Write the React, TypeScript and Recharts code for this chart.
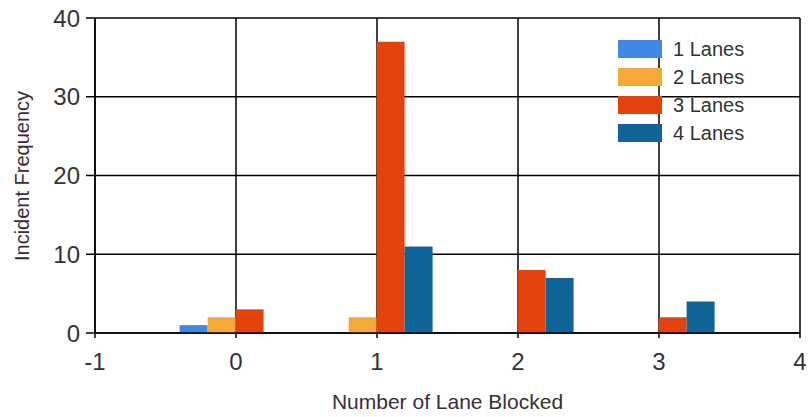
import {
  Bar,
  BarChart,
  CartesianGrid,
  Legend,
  XAxis,
  YAxis,
} from "recharts"

const lanesBlocked = [0, 1, 2, 3]
const oneLane = [1, 0, 0, 0]
const twoLanes = [2, 2, 0, 0]
const threeLanes = [3, 37, 8, 2]
const fourLanes = [0, 11, 7, 4]

const xTicks = [-1, 0, 1, 2, 3, 4]
const yTicks = [0, 10, 20, 30, 40]

const series = [
  { key: "lanes1", name: "1 Lanes", color: "#3f88e6" },
  { key: "lanes2", name: "2 Lanes", color: "#f6a93b" },
  { key: "lanes3", name: "3 Lanes", color: "#e2430c" },
  { key: "lanes4", name: "4 Lanes", color: "#0f6598" },
]

const data = lanesBlocked.map((x, i) => ({
  x,
  lanes1: oneLane[i],
  lanes2: twoLanes[i],
  lanes3: threeLanes[i],
  lanes4: fourLanes[i],
}))

const font = "'Liberation Sans', Arial, sans-serif"

function LaneLegend() {
  return (
    <div style={{ fontFamily: font, fontSize: 20, color: "#333" }}>
      {series.map((s) => (
        <div key={s.key} style={{ display: "flex", alignItems: "center", height: 28 }}>
          <div style={{ width: 44, height: 18, background: s.color }} />
          <span style={{ marginLeft: 11, lineHeight: "28px" }}>{s.name}</span>
        </div>
      ))}
    </div>
  )
}

export default function App() {
  return (
    <div style={{ position: "absolute", left: 0, top: 0, background: "#fff" }}>
      <BarChart
        width={808}
        height={417}
        data={data}
        margin={{ top: 18, right: 8, bottom: 0, left: 0 }}
        barCategoryGap="10%"
        barGap={0}
      >
        <CartesianGrid stroke="#000" strokeWidth={1.5} />
        <XAxis
          dataKey="x"
          type="number"
          domain={[-1, 4]}
          ticks={xTicks}
          allowDataOverflow
          height={84}
          tickSize={5}
          tickMargin={15}
          tick={{ fill: "#333", fontSize: 24, fontFamily: font }}
          tickLine={{ stroke: "#000", strokeWidth: 1.5 }}
          axisLine={{ stroke: "#000", strokeWidth: 1.5 }}
          label={{
            content: ({ viewBox }: any) => (
              <text
                x={viewBox.x + viewBox.width / 2}
                y={409}
                textAnchor="middle"
                fill="#3a2d3a"
                fontSize={21}
                fontFamily={font}
              >
                Number of Lane Blocked
              </text>
            ),
          }}
        />
        <YAxis
          type="number"
          domain={[0, 40]}
          ticks={yTicks}
          width={95}
          tickSize={9}
          tickMargin={6}
          tick={{ fill: "#333", fontSize: 24, fontFamily: font }}
          tickLine={{ stroke: "#000", strokeWidth: 1.5 }}
          axisLine={{ stroke: "#000", strokeWidth: 1.5 }}
          label={{
            content: () => (
              <text
                x={22}
                y={176}
                transform="rotate(-90 22 176)"
                textAnchor="middle"
                dominantBaseline="central"
                fill="#3a2d3a"
                fontSize={20}
                fontFamily={font}
              >
                Incident Frequency
              </text>
            ),
          }}
        />
        <Legend
          layout="horizontal"
          verticalAlign="middle"
          align="center"
          content={<LaneLegend />}
          wrapperStyle={{ top: 35, left: 618, width: "auto" }}
        />
        {series.map((s) => (
          <Bar
            key={s.key}
            dataKey={s.key}
            name={s.name}
            fill={s.color}
            isAnimationActive={false}
          />
        ))}
      </BarChart>
    </div>
  )
}
